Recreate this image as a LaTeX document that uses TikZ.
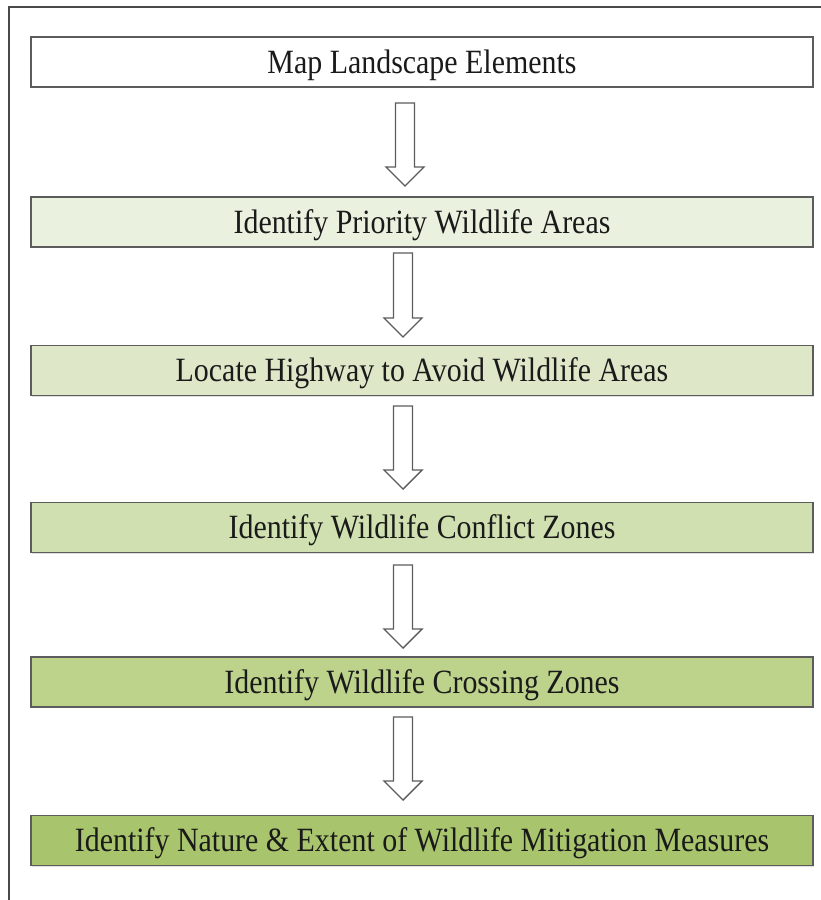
\documentclass[tikz,border=0pt]{standalone}
\usepackage{fontspec}
\setmainfont{Liberation Serif}[FakeStretch=0.88]
\usetikzlibrary{calc,shadows}

\definecolor{framegray}{HTML}{4A4A4A}
\definecolor{edgegray}{HTML}{5C5C5C}
\definecolor{stageA}{HTML}{FFFFFF}
\definecolor{stageB}{HTML}{EBF1DF}
\definecolor{stageC}{HTML}{DEE8C8}
\definecolor{stageD}{HTML}{D1E0B0}
\definecolor{stageE}{HTML}{BDD38C}
\definecolor{stageF}{HTML}{A8C46C}
\definecolor{inkcol}{HTML}{1A1A1A}

\tikzset{
  stagebox/.style={draw=edgegray, line width=1.8pt, minimum width=782pt,
    minimum height=50pt, inner sep=0pt, text=inkcol,
    text height=22.5pt, text depth=0pt,
    font=\fontsize{34pt}{38pt}\selectfont,
    drop shadow={shadow xshift=0.8pt, shadow yshift=-1.2pt, opacity=0.25}},
  blockarrow/.style={draw=edgegray, line width=1.4pt, fill=white, line join=miter},
  outerframe/.style={draw=framegray, line width=2pt}
}

% hollow downward block arrow from a start point (top of the shaft) to a tip
\newcommand\hollowdown[2]{%
  \draw[blockarrow] ($(#1)+(-9.5,0)$) -- ($(#1)+(9.5,0)$) -- ($(#2)+(9.5,-19)$)
    -- ($(#2)+(19,-19)$) -- (#2) -- ($(#2)+(-19,-19)$) -- ($(#2)+(-9.5,-19)$) -- cycle;}

\begin{document}
\begin{tikzpicture}[x=1pt, y=-1pt]
\useasboundingbox (0,0) rectangle (820,900);

% page frame (runs off the right and bottom)
\draw[outerframe] (9,920) -- (9,7) -- (840,7);

\node[stagebox, fill=stageA] (b1) at (422,62)    {Map Landscape Elements};
\node[stagebox, fill=stageB] (b2) at (422,222)   {Identify Priority Wildlife Areas};
\node[stagebox, fill=stageC] (b3) at (422,370.5) {Locate Highway to Avoid Wildlife Areas};
\node[stagebox, fill=stageD] (b4) at (422,527.5) {Identify Wildlife Conflict Zones};
\node[stagebox, fill=stageE] (b5) at (422,682)   {Identify Wildlife Crossing Zones};
\node[stagebox, fill=stageF] (b6) at (422,840.5) {Identify Nature \& Extent of Wildlife Mitigation Measures};

% arrow end points between the stages
\coordinate (s1) at (405,103); \coordinate (t1) at (405,186);
\coordinate (s2) at (403,253); \coordinate (t2) at (403,337);
\coordinate (s3) at (403,406); \coordinate (t3) at (403,489);
\coordinate (s4) at (403,565); \coordinate (t4) at (403,648);
\coordinate (s5) at (403,717); \coordinate (t5) at (403,800);

\hollowdown{s1}{t1}
\hollowdown{s2}{t2}
\hollowdown{s3}{t3}
\hollowdown{s4}{t4}
\hollowdown{s5}{t5}
\end{tikzpicture}
\end{document}
